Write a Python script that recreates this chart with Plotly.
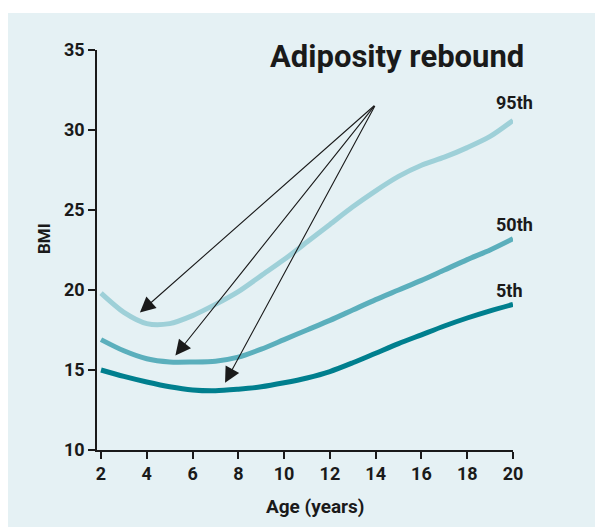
import plotly.graph_objects as go

ages = list(range(2, 21))
p95 = [19.8, 18.6, 17.9, 17.9, 18.4, 19.1, 19.9, 20.9, 21.9, 23.0, 24.1, 25.2, 26.2, 27.1, 27.8, 28.3, 28.9, 29.6, 30.6]
p50 = [16.9, 16.2, 15.7, 15.5, 15.5, 15.55, 15.8, 16.3, 16.9, 17.5, 18.1, 18.75, 19.4, 20.0, 20.6, 21.25, 21.9, 22.5, 23.2]
p05 = [15.0, 14.6, 14.25, 13.95, 13.75, 13.7, 13.8, 13.95, 14.2, 14.5, 14.9, 15.45, 16.05, 16.65, 17.2, 17.75, 18.25, 18.7, 19.1]
series_names = ["95th", "50th", "5th"]
series_colors = ["#9ED0D8", "#5BAFBC", "#007F8E"]

x_ticks = [2, 4, 6, 8, 10, 12, 14, 16, 18, 20]
y_ticks = [10, 15, 20, 25, 30, 35]

arrow_apex = (14.0, 31.6)
arrow_tips = [(3.7, 18.6), (5.25, 15.9), (7.42, 14.2)]

FONT = "Roboto, DejaVu Sans, sans-serif"
TXT = "#1a1a1a"
PANEL = "#E5F1F4"

# page offset of the figure (browser body margin)
OFF = 8
L, T, W, H = 97 - OFF, 50 - OFF, 416, 400


def px(xp):
    return (xp - OFF - L) / W


def py(yp):
    return (T + H - (yp - OFF)) / H


fig = go.Figure()
for name, vals, col in zip(series_names, [p95, p50, p05], series_colors):
    fig.add_trace(go.Scatter(x=ages, y=vals, mode="lines", name=name,
                             line=dict(color=col, width=5, shape="spline", smoothing=0.8),
                             showlegend=False, hoverinfo="skip"))

annotations = []
for (tx, ty) in arrow_tips:
    annotations.append(dict(x=tx, y=ty, xref="x", yref="y", ax=arrow_apex[0], ay=arrow_apex[1],
                            axref="x", ayref="y", showarrow=True, arrowhead=2, arrowsize=2.8,
                            arrowwidth=1.1, arrowcolor=TXT, text=""))

label_y = [31.7, 24.1, 19.95]
for name, ly in zip(series_names, label_y):
    annotations.append(dict(x=19.15, y=ly, xref="x", yref="y", text=name, showarrow=False,
                            xanchor="left", yanchor="middle",
                            font=dict(family=FONT, size=18, color=TXT, weight="bold")))

annotations.append(dict(x=px(526), y=py(57), xref="paper", yref="paper", text="Adiposity rebound",
                        showarrow=False, xanchor="right", yanchor="middle",
                        font=dict(family=FONT, size=31, color=TXT, weight="bold")))
annotations.append(dict(x=px(44), y=py(239), xref="paper", yref="paper",
                        text="BMI", textangle=-90, showarrow=False, xanchor="center", yanchor="middle",
                        font=dict(family=FONT, size=17, color=TXT, weight="bold")))
annotations.append(dict(x=px(315), y=py(506), xref="paper", yref="paper",
                        text="Age (years)", showarrow=False, xanchor="center", yanchor="middle",
                        font=dict(family=FONT, size=19, color=TXT, weight="bold")))

fig.update_layout(
    width=603, height=529,
    margin=dict(l=L, r=603 - L - W, t=T, b=529 - T - H),
    paper_bgcolor="white", plot_bgcolor="rgba(0,0,0,0)",
    annotations=annotations,
    shapes=[dict(type="rect", xref="paper", yref="paper", x0=px(7), x1=px(640),
                 y0=py(527), y1=py(13), fillcolor=PANEL, line=dict(width=0),
                 layer="below")],
    xaxis=dict(range=[1.825, 20], tickvals=x_ticks, showgrid=False, zeroline=False,
               showline=True, linecolor=TXT, linewidth=1.5, ticks="outside", ticklen=7,
               tickwidth=1.5, tickcolor=TXT,
               tickfont=dict(family=FONT, size=18, color=TXT, weight="bold")),
    yaxis=dict(range=[10, 35], tickvals=y_ticks, showgrid=False, zeroline=False,
               showline=True, linecolor=TXT, linewidth=1.5, ticks="outside", ticklen=7,
               tickwidth=1.5, tickcolor=TXT,
               tickfont=dict(family=FONT, size=18, color=TXT, weight="bold")),
)

fig.write_html("out.html")
